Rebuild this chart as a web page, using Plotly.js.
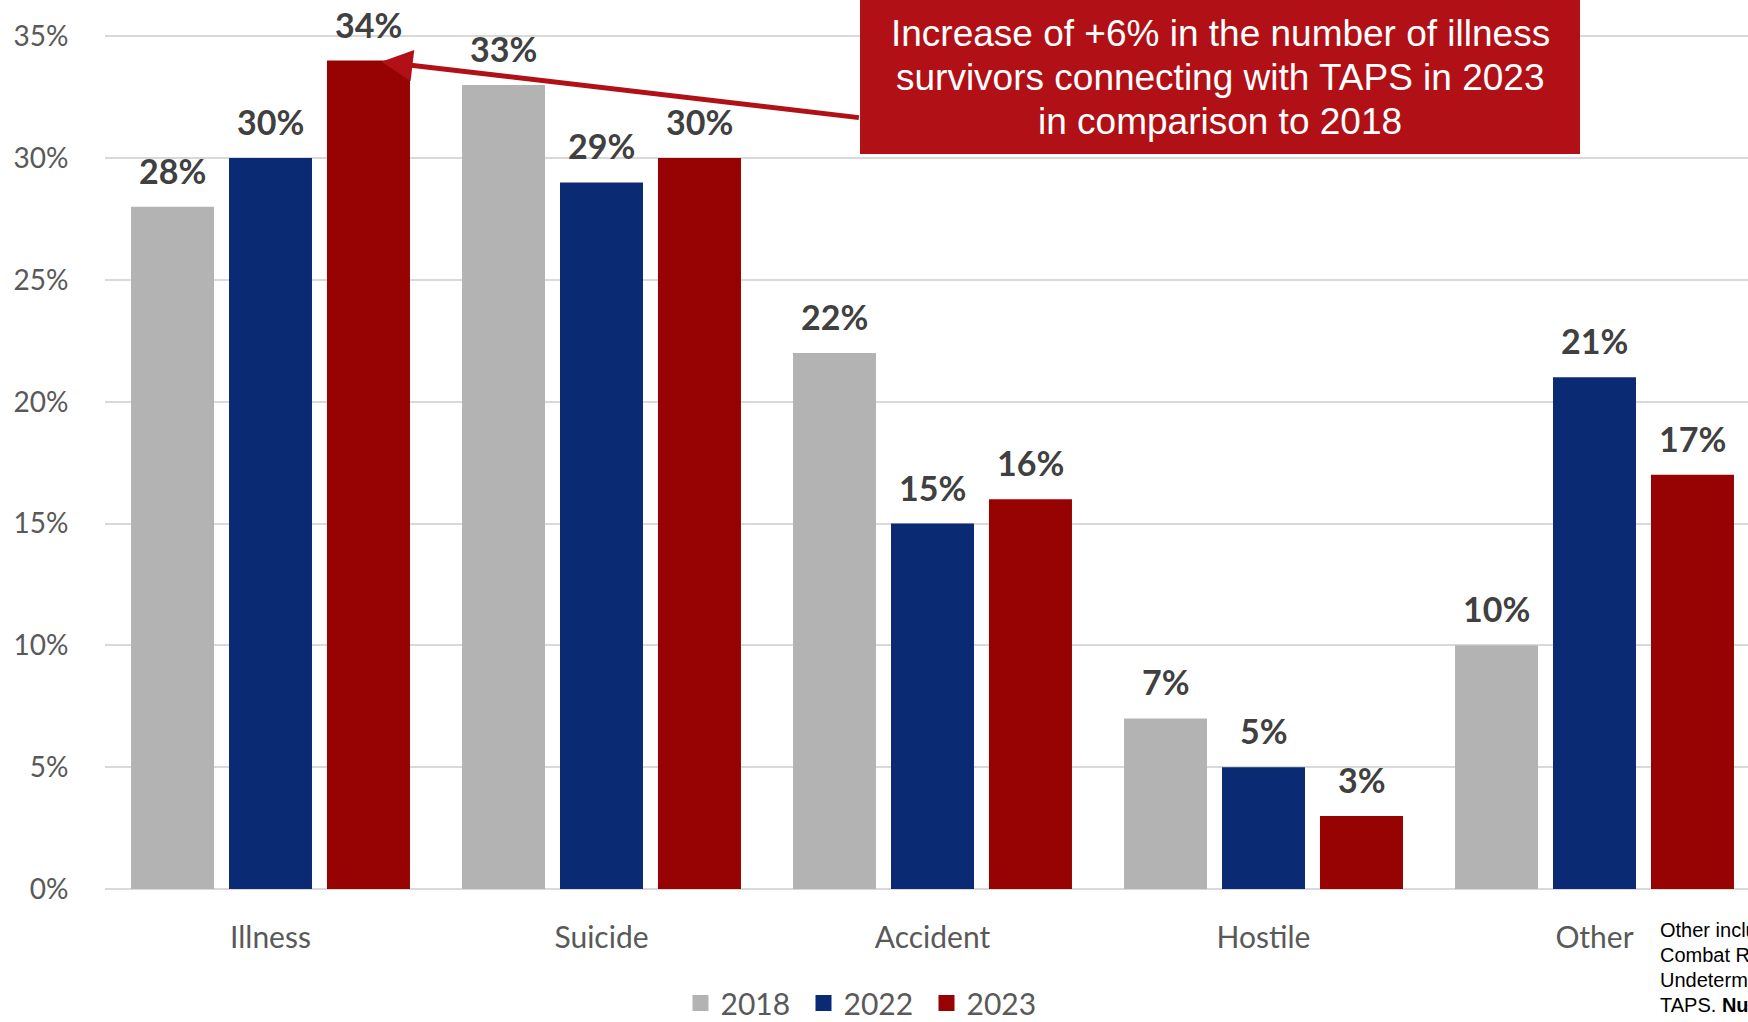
<!DOCTYPE html>
<html>
<head>
<meta charset="utf-8">
<script src="https://cdn.plot.ly/plotly-3.0.1.min.js"></script>
<style>
  html, body { margin: 0; padding: 0; background: #ffffff; overflow: hidden; }
  #chart { width: 1748px; height: 1022px; }
</style>
</head>
<body>
<div id="chart"></div>
<script>
// ---- data ----
const categories = ["Illness", "Suicide", "Accident", "Hostile", "Other"];
const years = ["2018", "2022", "2023"];
const values2018 = [28, 33, 22, 7, 10];
const values2022 = [30, 29, 15, 5, 21];
const values2023 = [34, 30, 16, 3, 17];
const yTickValues = [0, 5, 10, 15, 20, 25, 30, 35];
const yTickLabels = ["0%", "5%", "10%", "15%", "20%", "25%", "30%", "35%"];
const calloutLines = ["Increase of +6% in the number of illness",
                      "survivors connecting with TAPS in 2023",
                      "in comparison to 2018"];
const footnoteLines = ["Other includes Homicide,",
                       "Combat Related,",
                       "Undetermined, Unknown and",
                       "TAPS. <b>Numbers</b>"];

// ---- styles ----
const colors = ["#b3b3b3", "#0b2a74", "#970203"];
const seriesValues = [values2018, values2022, values2023];
const slotPx = 98;
const offsetsPx = [-slotPx, 0, slotPx];
const plotTop = 35, plotBottom = 889, plotLeft = 105, figW = 1748, figH = 1022;
const plotH = plotBottom - plotTop, plotW = figW - plotLeft;
const py = (px) => 1 - (px - plotTop) / plotH;   // pixel row -> paper y
const pxx = (px) => (px - plotLeft) / plotW;       // pixel col -> paper x

const traces = [];
seriesValues.forEach((vals, i) => {
  traces.push({
    type: "bar",
    name: years[i],
    x: categories,
    y: vals,
    marker: { color: colors[i], line: { width: 0 } },
    showlegend: false,
    hoverinfo: "x+y"
  });
});
// legend entries (larger square swatches)
years.forEach((yr, i) => {
  traces.push({
    type: "scatter",
    mode: "markers",
    name: yr,
    x: [null],
    y: [null],
    marker: { symbol: "square", size: 16, color: colors[i] },
    showlegend: true,
    hoverinfo: "skip"
  });
});

const annotations = [];
seriesValues.forEach((vals, i) => {
  vals.forEach((v, j) => {
    annotations.push({
      x: categories[j],
      y: v,
      xref: "x",
      yref: "y",
      text: v + "%",
      showarrow: false,
      xanchor: "center",
      yanchor: "bottom",
      xshift: offsetsPx[i],
      yshift: 14,
      font: { family: "Lato, 'Open Sans', sans-serif", size: 34, color: "#404040", weight: 700 }
    });
  });
});

// callout text, one annotation per line
const calloutY = [33, 78, 121];
calloutLines.forEach((line, k) => {
  annotations.push({
    xref: "paper", yref: "paper",
    x: pxx(1220), y: py(calloutY[k]),
    xanchor: "center", yanchor: "middle",
    text: line,
    showarrow: false,
    font: { family: "'Liberation Sans', Arial, sans-serif", size: 37, color: "#ffffff" }
  });
});
// callout arrow pointing to Illness 2023 bar top
annotations.push({
  xref: "x", yref: "y",
  x: 0.335, y: values2023[0] - 0.05,
  ax: 479, ay: 56,
  axref: "pixel", ayref: "pixel",
  text: "",
  showarrow: true,
  arrowhead: 2,
  arrowsize: 1.25,
  arrowwidth: 5,
  arrowcolor: "#b11116"
});
// footnote (cut by the right edge in the reference)
const footY = [930, 955, 980, 1005];
footnoteLines.forEach((line, k) => {
  annotations.push({
    xref: "paper", yref: "paper",
    x: pxx(1658), y: py(footY[k]),
    xanchor: "left", yanchor: "middle",
    align: "left",
    text: line,
    showarrow: false,
    font: { family: "'Liberation Sans', Arial, sans-serif", size: 20, color: "#000000" }
  });
});

const layout = {
  width: figW,
  height: figH,
  margin: { l: plotLeft, r: 0, t: plotTop, b: figH - plotBottom, pad: 0 },
  paper_bgcolor: "#ffffff",
  plot_bgcolor: "#ffffff",
  font: { family: "Lato, 'Open Sans', sans-serif", color: "#595959" },
  barmode: "group",
  bargap: 0.112,
  bargroupgap: 0.153,
  xaxis: {
    type: "category",
    range: [-0.5, 4.5 - 12 / 331],
    showgrid: false,
    showline: false,
    zeroline: false,
    ticks: "outside",
    ticklen: 22,
    tickcolor: "rgba(0,0,0,0)",
    tickfont: { family: "Lato, 'Open Sans', sans-serif", size: 30, color: "#595959" },
    fixedrange: true,
    automargin: false
  },
  yaxis: {
    range: [0, 35.05],
    tickvals: yTickValues,
    ticktext: yTickLabels,
    showgrid: true,
    gridcolor: "#d9d9d9",
    gridwidth: 2,
    zeroline: true,
    zerolinecolor: "#d9d9d9",
    zerolinewidth: 2,
    showline: false,
    ticks: "outside",
    ticklen: 30,
    tickcolor: "rgba(0,0,0,0)",
    tickfont: { family: "Lato, 'Open Sans', sans-serif", size: 28, color: "#595959" },
    fixedrange: true,
    automargin: false
  },
  legend: {
    orientation: "h",
    xref: "container",
    yref: "container",
    x: 865 / figW,
    xanchor: "center",
    y: 1 - 1003 / figH,
    yanchor: "middle",
    font: { family: "Lato, 'Open Sans', sans-serif", size: 30, color: "#595959" },
    itemwidth: 30,
    entrywidth: 78,
    bgcolor: "rgba(0,0,0,0)"
  },
  shapes: [{
    type: "rect",
    xref: "paper", yref: "paper",
    x0: pxx(860), x1: pxx(1580),
    y0: py(154), y1: py(-5),
    fillcolor: "#b11116",
    line: { width: 0 },
    layer: "above"
  }],
  annotations: annotations,
  showlegend: true
};

Plotly.newPlot("chart", traces, layout, { displayModeBar: false, staticPlot: true });
</script>
</body>
</html>
